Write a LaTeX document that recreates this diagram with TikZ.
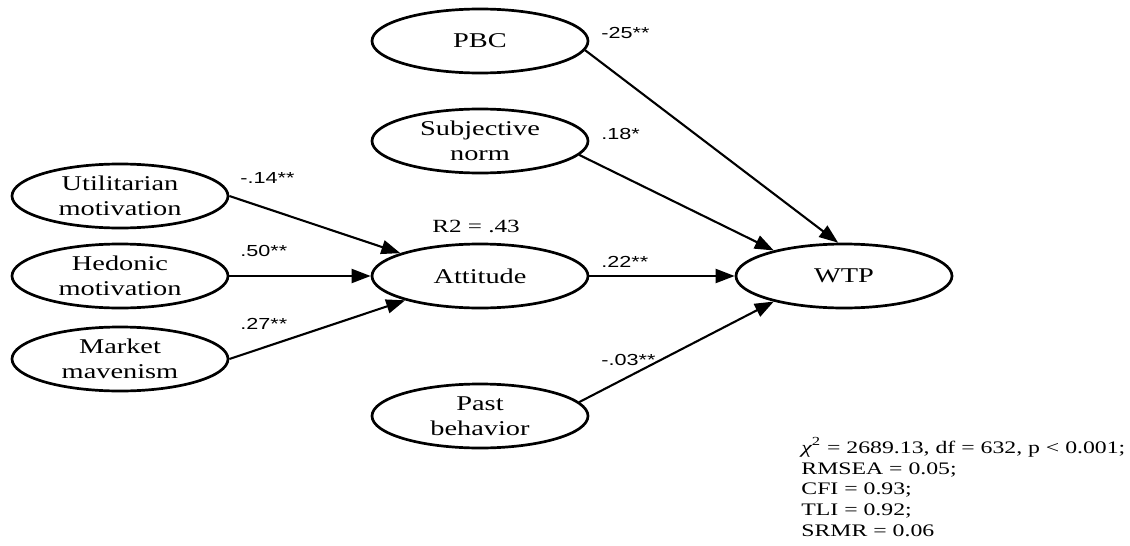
\documentclass[tikz,border=0pt]{standalone}
\usepackage{fontspec}
\setmainfont[FakeStretch=1.35]{Liberation Serif}
\newfontfamily\coeffont[FakeStretch=1.35]{Liberation Sans}
\usetikzlibrary{shapes.geometric, arrows.meta}

\begin{document}
\begin{tikzpicture}[x = 0.5pt, y = -0.5pt,
	construct/.style = {ellipse, draw, line width = 1.35pt, minimum width = 108pt, minimum height = 32pt,
		inner sep = 0pt, align = center, font = \fontsize{10.5}{12.5}\selectfont},
	effect/.style = {-{Triangle[length = 9.5pt, width = 7pt]}, line width = 1.05pt},
	coef/.style = {anchor = west, inner sep = 0pt, font = \coeffont\fontsize{8}{9}\selectfont}]

\useasboundingbox (0, 0) rectangle (1130, 546);

\node[construct] (PBC) at (480, 41) {PBC};
\node[construct] (SN) at (480, 141) {Subjective\\norm};
\node[construct] (ATT) at (480, 276) {Attitude};
\node[construct] (PB) at (480, 416) {Past\\behavior};
\node[construct] (WTP) at (844, 276) {WTP};

\node[construct] (UM) at (120, 196) {Utilitarian\\motivation};
\node[construct] (HM) at (120, 276) {Hedonic\\motivation};
\node[construct] (MM) at (120, 359) {Market\\mavenism};

\draw[effect] (UM.east) -- (ATT.164);
\draw[effect] (HM.east) -- (ATT.west);
\draw[effect] (MM.east) -- (ATT.198);

\draw[effect] (PBC.-5) -- (WTP.100);
\draw[effect] (SN.-8) -- (WTP.160);
\draw[effect] (ATT.east) -- (WTP.west);
\draw[effect] (PB.8) -- (WTP.-160);

\node[coef] (cUM) at (240, 178) {-.14**};
\node[coef] (cHM) at (240, 251) {.50**};
\node[coef] (cMM) at (240, 324) {.27**};
\node[coef] (cPBC) at (601, 33) {-25**};
\node[coef] (cSN) at (601, 134) {.18*};
\node[coef] (cATT) at (601, 262) {.22**};
\node[coef] (cPB) at (601, 360) {-.03**};

\node[anchor = west, inner sep = 0pt, font = \fontsize{9.3}{11}\selectfont] (R2) at (432, 226) {R2 = .43};

\node[anchor = north west, inner sep = 0pt, align = left, font = \fontsize{8.8}{10.4}\selectfont] (fit) at (801, 437)
	{{\itshape χ}\textsuperscript{2} = 2689.13, df = 632, p < 0.001;\\
	RMSEA = 0.05;\\
	CFI = 0.93;\\
	TLI = 0.92;\\
	SRMR = 0.06};

\end{tikzpicture}
\end{document}
